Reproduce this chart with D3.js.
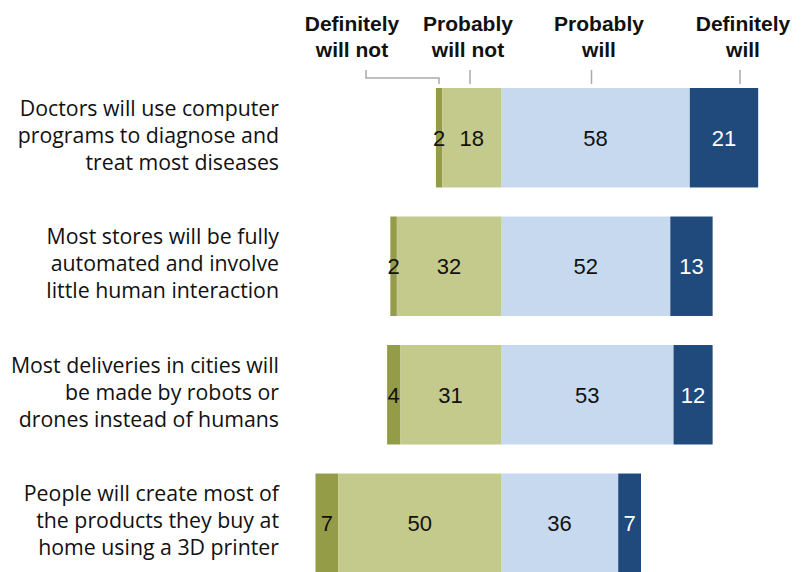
<!DOCTYPE html>
<html>
<head>
<meta charset="utf-8">
<script src="https://cdn.jsdelivr.net/npm/d3@7"></script>
<style>
  body { margin: 0; background: #fff; }
  svg { display: block; }
</style>
</head>
<body>
<svg id="chart" width="804" height="572"></svg>
<script>
// Survey items (wrapped into display lines) and response shares (%)
const categories = [
  ["Doctors will use computer", "programs to diagnose and", "treat most diseases"],
  ["Most stores will be fully", "automated and involve", "little human interaction"],
  ["Most deliveries in cities will", "be made by robots or", "drones instead of humans"],
  ["People will create most of", "the products they buy at", "home using a 3D printer"]
];
const definitelyWillNot = [2, 2, 4, 7];
const probablyWillNot   = [18, 32, 31, 50];
const probablyWill      = [58, 52, 53, 36];
const definitelyWill    = [21, 13, 12, 7];
const responseLabels = [
  ["Definitely", "will not"],
  ["Probably", "will not"],
  ["Probably", "will"],
  ["Definitely", "will"]
];

const colors = ["#959c48", "#c4c98c", "#c6d9ef", "#204a7c"];
const textColors = ["#111", "#111", "#111", "#fff"];

const svg = d3.select("#chart");

// Diverging scale: negatives to the left of the zero line
const x = d3.scaleLinear().domain([-60, 90]).range([305.7, 794]);
const y = d3.scaleBand().domain(d3.range(categories.length))
  .range([88, 573]).paddingInner(0.226).paddingOuter(0);

// Build stacked segments per row
const rows = categories.map((c, i) => {
  const dn = definitelyWillNot[i], pn = probablyWillNot[i];
  const pw = probablyWill[i], dw = definitelyWill[i];
  return {
    i,
    segs: [
      { k: 0, v: dn, x0: -(pn + dn), x1: -pn },
      { k: 1, v: pn, x0: -pn, x1: 0 },
      { k: 2, v: pw, x0: 0, x1: pw },
      { k: 3, v: dw, x0: pw, x1: pw + dw }
    ]
  };
});

const barH = y.bandwidth();
const g = svg.append("g");
const row = g.selectAll("g.row").data(rows).join("g")
  .attr("class", "row")
  .attr("transform", d => `translate(0,${y(d.i)})`);

row.selectAll("rect").data(d => d.segs).join("rect")
  .attr("x", d => x(d.x0))
  .attr("y", 0)
  .attr("width", d => x(d.x1) - x(d.x0))
  .attr("height", barH)
  .attr("fill", d => colors[d.k]);

row.selectAll("text.val").data(d => d.segs).join("text")
  .attr("class", "val")
  .attr("x", d => (x(d.x0) + x(d.x1)) / 2)
  .attr("y", barH / 2)
  .attr("dy", "0.36em")
  .attr("text-anchor", "middle")
  .attr("font-family", "'Liberation Sans', Arial, sans-serif")
  .attr("font-size", 22)
  .attr("fill", d => textColors[d.k])
  .text(d => d.v);

// Category labels, right-aligned
row.append("text")
  .attr("text-anchor", "end")
  .attr("font-family", "'Open Sans', sans-serif")
  .attr("font-size", 21.3)
  .attr("fill", "#111")
  .selectAll("tspan").data(d => categories[d.i].map((t, j) => ({ t, j }))).join("tspan")
  .attr("x", 279)
  .attr("y", d => barH / 2 + 5 + (d.j - 1) * 27)
  .text(d => d.t);

// Column headings
const headX = [352, 468, 599, 743];
const head = svg.append("g")
  .attr("font-family", "'Liberation Sans', Arial, sans-serif")
  .attr("font-weight", "bold")
  .attr("font-size", 21)
  .attr("fill", "#111")
  .attr("text-anchor", "middle");
responseLabels.forEach((lines, k) => {
  const t = head.append("text");
  lines.forEach((ln, j) => {
    t.append("tspan").attr("x", headX[k]).attr("y", 31 + j * 26).text(ln);
  });
});

// Leader lines from headings down to the first bar
const leaders = svg.append("g").attr("stroke", "#aaaaaa").attr("stroke-width", 1.5).attr("fill", "none");
leaders.append("path").attr("d", "M366,70 V78 H439 V84");
[470, 591.5, 740].forEach(px => {
  leaders.append("line").attr("x1", px).attr("x2", px).attr("y1", 70).attr("y2", 84);
});
</script>
</body>
</html>
